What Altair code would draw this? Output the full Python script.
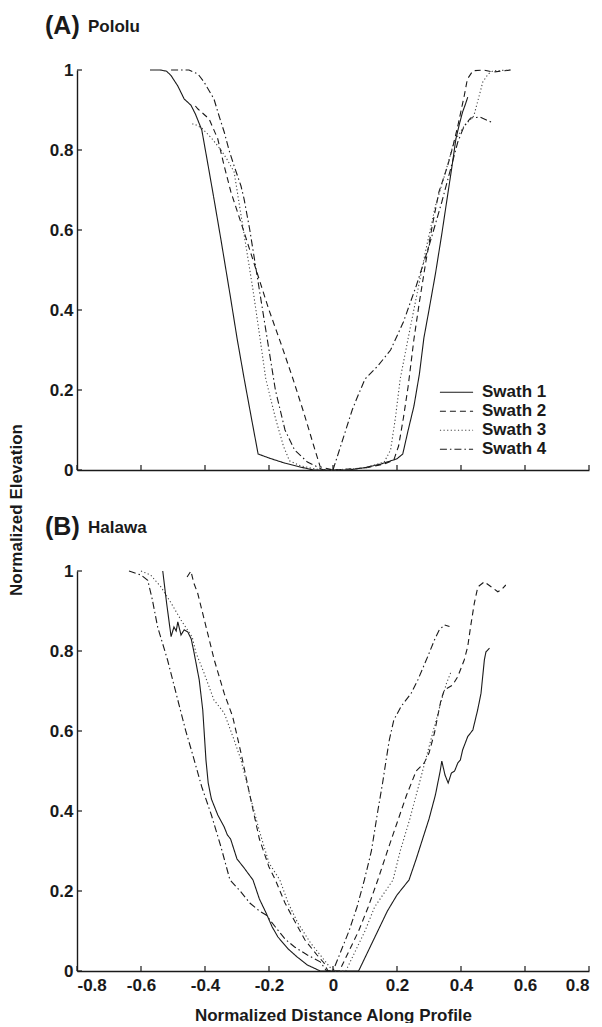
import altair as alt
import pandas as pd

# ---------------- data: panel A (Pololu) ----------------
a1_x = [-0.572, -0.54, -0.52, -0.506, -0.485, -0.465, -0.444, -0.43, -0.41, -0.39, -0.372, -0.35, -0.32, -0.30,
        -0.278, -0.255, -0.234, -0.20, -0.15, -0.10, -0.06, 0.0, 0.05, 0.10, 0.15, 0.20, 0.218, 0.235, 0.253,
        0.27, 0.284, 0.30, 0.32, 0.34, 0.358, 0.372, 0.384, 0.395, 0.405, 0.414, 0.421]
a1_y = [1.0, 1.0, 0.997, 0.986, 0.96, 0.9275, 0.912, 0.89, 0.85, 0.76, 0.678, 0.575, 0.43, 0.33,
        0.23, 0.13, 0.04, 0.03, 0.017, 0.007, 0.0, 0.0, 0.0, 0.006, 0.015, 0.028, 0.04, 0.10, 0.16,
        0.24, 0.33, 0.40, 0.49, 0.59, 0.686, 0.76, 0.8275, 0.865, 0.895, 0.915, 0.932]

a2_x = [-0.43, -0.422, -0.387, -0.36, -0.34, -0.319, -0.28, -0.24, -0.20, -0.16, -0.125, -0.09, -0.06, -0.04,
        0.0, 0.10, 0.16, 0.19, 0.205, 0.22, 0.235, 0.253, 0.27, 0.29, 0.31, 0.331, 0.358, 0.375, 0.39, 0.41,
        0.42, 0.437, 0.47, 0.50, 0.556]
a2_y = [0.91, 0.9025, 0.8775, 0.8275, 0.76, 0.695, 0.60, 0.50, 0.40, 0.31, 0.2275, 0.14, 0.06, 0.008,
        0.0, 0.005, 0.015, 0.025, 0.06, 0.13, 0.21, 0.3275, 0.42, 0.52, 0.61, 0.695, 0.76, 0.81, 0.86, 0.935,
        0.9775, 0.998, 1.0, 0.995, 1.0]

a3_x = [-0.44, -0.434, -0.41, -0.38, -0.35, -0.33, -0.309, -0.28, -0.25, -0.23, -0.21, -0.18, -0.155, -0.136,
        -0.10, -0.05, 0.0, 0.10, 0.16, 0.18, 0.195, 0.21, 0.235, 0.26, 0.29, 0.32, 0.35, 0.378, 0.41, 0.44,
        0.455, 0.468, 0.485, 0.50, 0.556]
a3_y = [0.865, 0.865, 0.855, 0.83, 0.80, 0.775, 0.745, 0.60, 0.45, 0.34, 0.2275, 0.13, 0.06, 0.023,
        0.01, 0.002, 0.0, 0.005, 0.02, 0.05, 0.13, 0.2275, 0.33, 0.43, 0.55, 0.66, 0.74, 0.82, 0.86, 0.885,
        0.93, 0.97, 0.99, 0.998, 1.0]

a4_x = [-0.506, -0.45, -0.422, -0.403, -0.372, -0.356, -0.34, -0.325, -0.309, -0.2875, -0.278, -0.26, -0.24,
        -0.22, -0.20, -0.18, -0.15, -0.12, -0.08, -0.03, 0.0, 0.02, 0.04, 0.06, 0.075, 0.10, 0.14, 0.18, 0.22,
        0.26, 0.30, 0.34, 0.37, 0.39, 0.41, 0.43, 0.46, 0.494]
a4_y = [1.0, 1.0, 0.99, 0.97, 0.9275, 0.885, 0.845, 0.80, 0.76, 0.71, 0.678, 0.60, 0.50,
        0.40, 0.30, 0.20, 0.10, 0.05, 0.02, 0.0, 0.0, 0.05, 0.10, 0.15, 0.18, 0.2275, 0.26, 0.30, 0.37,
        0.46, 0.56, 0.67, 0.76, 0.82, 0.86, 0.88, 0.882, 0.87]

# ---------------- data: panel B (Halawa) ----------------
b1_x = [-0.532, -0.52, -0.506, -0.497, -0.49, -0.485, -0.475, -0.465, -0.454, -0.443, -0.434, -0.418, -0.407,
        -0.397, -0.39, -0.38, -0.36, -0.34, -0.33, -0.32, -0.30, -0.28, -0.25, -0.23, -0.209, -0.19, -0.172,
        -0.14, -0.112, -0.08, -0.04, 0.08, 0.11, 0.14, 0.17, 0.20, 0.2375, 0.26, 0.28, 0.30, 0.32, 0.335,
        0.34, 0.35, 0.36, 0.37, 0.38, 0.39, 0.398, 0.405, 0.421, 0.437, 0.452, 0.4625, 0.473, 0.478, 0.489]
b1_y = [1.0, 0.92, 0.836, 0.86, 0.85, 0.873, 0.84, 0.853, 0.848, 0.83, 0.795, 0.7275, 0.6525,
        0.5275, 0.47, 0.43, 0.39, 0.36, 0.34, 0.33, 0.28, 0.26, 0.2275, 0.18, 0.145, 0.11, 0.085,
        0.055, 0.035, 0.015, 0.0, 0.0, 0.05, 0.10, 0.15, 0.19, 0.2275, 0.28, 0.33, 0.38, 0.44, 0.50,
        0.525, 0.49, 0.47, 0.495, 0.50, 0.52, 0.5275, 0.5525, 0.586, 0.6025, 0.6525, 0.694, 0.7775, 0.798, 0.807]

b2_x = [-0.456, -0.444, -0.435, -0.423, -0.402, -0.371, -0.34, -0.3135, -0.2875, -0.26, -0.23, -0.20, -0.18,
        -0.15, -0.12, -0.0875, -0.05, -0.028, -0.016, 0.02, 0.05, 0.08, 0.11, 0.14, 0.17, 0.20, 0.23, 0.26,
        0.285, 0.30, 0.317, 0.327, 0.3375, 0.348, 0.374, 0.39, 0.41, 0.421, 0.43, 0.4415, 0.4525, 0.473,
        0.495, 0.515, 0.525, 0.54]
b2_y = [0.985, 1.0, 0.97, 0.945, 0.8775, 0.7775, 0.694, 0.636, 0.545, 0.44, 0.33, 0.26, 0.2275,
        0.17, 0.125, 0.0775, 0.04, 0.02, 0.0, 0.0, 0.05, 0.10, 0.16, 0.2275, 0.30, 0.37, 0.44, 0.50,
        0.52, 0.545, 0.595, 0.636, 0.6775, 0.7025, 0.715, 0.736, 0.7775, 0.811, 0.861, 0.919, 0.96, 0.973,
        0.96, 0.948, 0.9525, 0.965]

b3_x = [-0.60, -0.57, -0.5375, -0.506, -0.475, -0.44, -0.428, -0.403, -0.372, -0.34, -0.309, -0.2875, -0.26,
        -0.23, -0.20, -0.166, -0.14, -0.11, -0.07, -0.03, 0.0, 0.04, 0.07, 0.10, 0.13, 0.1875, 0.21, 0.24,
        0.27, 0.30, 0.32, 0.34, 0.355, 0.37]
b3_y = [1.0, 0.99, 0.96, 0.92, 0.8775, 0.835, 0.795, 0.745, 0.6775, 0.645, 0.5775, 0.5275, 0.44,
        0.35, 0.27, 0.2275, 0.17, 0.12, 0.07, 0.03, 0.0, 0.0, 0.05, 0.10, 0.16, 0.2275, 0.30, 0.38,
        0.47, 0.56, 0.62, 0.68, 0.72, 0.75]

b4_x = [-0.6375, -0.60, -0.579, -0.565, -0.548, -0.517, -0.485, -0.46, -0.44, -0.41, -0.38, -0.35, -0.322,
        -0.29, -0.26, -0.23, -0.209, -0.18, -0.15, -0.12, -0.08, -0.04, -0.02, 0.0, 0.02, 0.05, 0.075, 0.098,
        0.12, 0.14, 0.155, 0.166, 0.176, 0.19, 0.2125, 0.244, 0.265, 0.296, 0.317, 0.332, 0.348, 0.364]
b4_y = [1.0, 0.99, 0.977, 0.93, 0.86, 0.7775, 0.6775, 0.60, 0.545, 0.46, 0.39, 0.31, 0.2275,
        0.20, 0.17, 0.15, 0.14, 0.11, 0.08, 0.06, 0.04, 0.023, 0.0, 0.0, 0.04, 0.10, 0.16, 0.2275,
        0.30, 0.40, 0.47, 0.5275, 0.5775, 0.6275, 0.661, 0.694, 0.7275, 0.786, 0.8275, 0.8525, 0.865, 0.861]

series = ["Swath 1", "Swath 2", "Swath 3", "Swath 4"]
x_ticks = [-0.8, -0.6, -0.4, -0.2, 0.0, 0.2, 0.4, 0.6, 0.8]
y_ticks = [0.0, 0.2, 0.4, 0.6, 0.8, 1.0]
x_title = "Normalized Distance Along Profile"
y_title = "Normalized Elevation"


def frame(xs, ys, name):
    return pd.DataFrame({"x": xs, "y": ys, "swath": name, "i": list(range(len(xs)))})


dfA = pd.concat([frame(a1_x, a1_y, series[0]), frame(a2_x, a2_y, series[1]),
                 frame(a3_x, a3_y, series[2]), frame(a4_x, a4_y, series[3])], ignore_index=True)
dfB = pd.concat([frame(b1_x, b1_y, series[0]), frame(b2_x, b2_y, series[1]),
                 frame(b3_x, b3_y, series[2]), frame(b4_x, b4_y, series[3])], ignore_index=True)

FONT = "Liberation Sans"
INK = "#1a1a1a"
W = 512
H = 400

xscale = alt.Scale(domain=[-0.8, 0.8], nice=False, zero=False)
yscale = alt.Scale(domain=[0, 1], nice=False, zero=False)
dash_scale = alt.Scale(domain=series, range=[[1, 0], [6, 4], [1.2, 2.4], [7, 3, 1.5, 3]])
color_scale = alt.Scale(domain=series, range=[INK, INK, "#444444", INK])

legend = alt.Legend(title=None, orient="none", legendX=362, legendY=313, symbolType="stroke",
                    symbolSize=1100, symbolStrokeWidth=1.2, labelFont=FONT, labelFontSize=17,
                    labelFontWeight="bold", labelColor=INK, labelOffset=8, rowPadding=0,
                    clipHeight=18.5, symbolFillColor=INK)

label_expr = "datum.value < 0 ? '-' + format(-datum.value, '~g') : format(datum.value, '~g')"


def panel(df, tag, name, show_xlabels):
    xaxis = alt.Axis(values=x_ticks, grid=False, ticks=False, domainColor=INK, domainWidth=1.4,
                     labels=show_xlabels, labelExpr=label_expr, labelFont=FONT, labelFontSize=17,
                     labelFontWeight="bold", labelColor=INK, labelPadding=6,
                     title=x_title if show_xlabels else None, titleFont=FONT, titleFontSize=17,
                     titleFontWeight="bold", titleColor=INK, titlePadding=14)
    yaxis = alt.Axis(values=y_ticks, grid=False, ticks=False, domainColor=INK, domainWidth=1.4,
                     labelExpr=label_expr, labelFont=FONT, labelFontSize=17, labelFontWeight="bold",
                     labelColor=INK, labelPadding=4, title=None)
    lines = alt.Chart(df).mark_line(strokeWidth=1.1).encode(
        x=alt.X("x:Q", scale=xscale, axis=xaxis),
        y=alt.Y("y:Q", scale=yscale, axis=yaxis),
        color=alt.Color("swath:N", scale=color_scale, legend=legend),
        strokeDash=alt.StrokeDash("swath:N", scale=dash_scale, legend=legend),
        order=alt.Order("i:Q"),
    )
    xt = alt.Chart(pd.DataFrame({"t": x_ticks})).mark_rule(color=INK, strokeWidth=1.2).encode(
        x=alt.X("t:Q", scale=xscale), y=alt.value(H), y2=alt.value(H - 5))
    yt = alt.Chart(pd.DataFrame({"t": y_ticks})).mark_rule(color=INK, strokeWidth=1.2).encode(
        y=alt.Y("t:Q", scale=yscale), x=alt.value(0), x2=alt.value(5))
    tag_txt = alt.Chart(pd.DataFrame({"s": [tag]})).mark_text(
        font=FONT, fontSize=25, fontWeight="bold", color=INK, align="left", baseline="alphabetic"
    ).encode(text="s:N", x=alt.value(-32), y=alt.value(-36))
    name_txt = alt.Chart(pd.DataFrame({"s": [name]})).mark_text(
        font=FONT, fontSize=17, fontWeight="bold", color=INK, align="left", baseline="alphabetic"
    ).encode(text="s:N", x=alt.value(11), y=alt.value(-38))
    layers = [lines, xt, yt, tag_txt, name_txt]
    if not show_xlabels:
        ytitle = alt.Chart(pd.DataFrame({"s": [y_title]})).mark_text(
            font=FONT, fontSize=17, fontWeight="bold", color=INK, angle=270, align="center",
            baseline="middle"
        ).encode(text="s:N", x=alt.value(-60), y=alt.value(440))
        layers.append(ytitle)
    return alt.layer(*layers).properties(width=W, height=H)


top = panel(dfA, "(A)", "Pololu", False)
bottom = panel(dfB, "(B)", "Halawa", True)

chart = alt.vconcat(top, bottom, spacing=101, bounds="flush").configure(
    padding={"top": 6, "left": 0, "right": 0, "bottom": 0}, background="white"
).configure_view(stroke=None)

chart.save("out.html", embed_options={"renderer": "svg", "actions": False})
